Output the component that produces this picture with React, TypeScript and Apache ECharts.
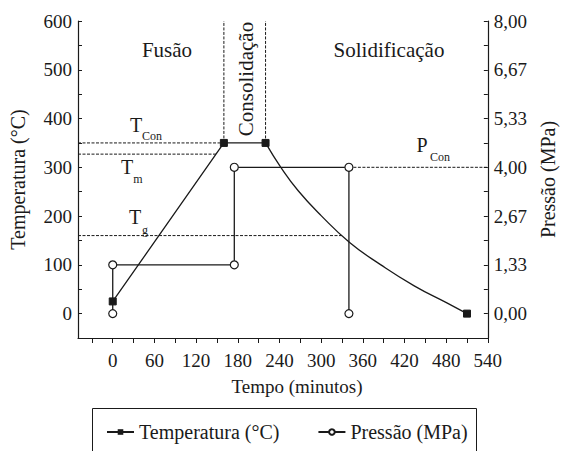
import React, { useEffect, useRef } from "react";
import * as echarts from "echarts";

// ---- data ----
const heatTimes = [0, 160, 220];
const heatTemps = [25, 350, 350];
const coolTimes = [220, 242, 267, 300, 341, 386, 434, 481, 510];
const coolTemps = [350, 300, 252, 201, 146, 100, 57, 22, 0];
const presTimes = [0, 0, 175, 175, 340, 340];
const presValues = [0, 1.333, 1.333, 4, 4, 0];

const xTickValues = [-30, 0, 30, 60, 90, 120, 150, 180, 210, 240, 270, 300, 330, 360, 390, 420, 450, 480, 510, 540];
const xLabelValues = [0, 60, 120, 180, 240, 300, 360, 420, 480, 540];

const T_CON = 350;
const T_M = 327;
const T_G = 160;
const P_CON = 4;
const stageStart = 160;
const stageEnd = 220;
const tmEnd = 149;
const tgEnd = 330;
const pconStart = 340;

const X_MIN = -50;
const X_MAX = 540;
const T_MIN = -50;
const T_MAX = 600;
const P_MIN = -2 / 3;
const P_MAX = 8;

const FONT = "'Liberation Serif', 'Times New Roman', Times, serif";
const INK = "#1a1a1a";

export default function App() {
  const ref = useRef<HTMLDivElement>(null);

  useEffect(() => {
    if (!ref.current) return;
    const chart = echarts.init(ref.current, undefined, { renderer: "svg" });

    const dashed = (data: number[][], yAxisIndex = 0) => ({
      type: "line",
      yAxisIndex,
      data,
      symbol: "none",
      silent: true,
      lineStyle: { color: INK, width: 1, type: [3, 1.5] },
      z: 1,
    });

    const text = (t: string, x: number, y: number, size: number, extra: any = {}) => ({
      type: "text",
      x,
      y,
      ...extra,
      style: {
        text: t,
        fontFamily: FONT,
        fontSize: size,
        fill: INK,
        align: "center",
        verticalAlign: "middle",
      },
    });

    chart.setOption({
      animation: false,
      backgroundColor: "#fff",
      textStyle: { fontFamily: FONT, color: INK },
      grid: { left: 78, right: 74, top: 21, bottom: 113 },
      legend: {
        data: ["Temperatura (°C)", "Pressão (MPa)"],
        left: 106,
        top: 422,
        padding: 0,
        itemWidth: 27,
        itemHeight: 7,
        itemGap: 38,
        textStyle: { fontFamily: FONT, fontSize: 20, color: INK },
      },
      xAxis: {
        type: "value",
        min: X_MIN,
        max: X_MAX,
        splitLine: { show: false },
        axisLine: { onZero: false, lineStyle: { color: INK, width: 1.2 } },
        axisTick: { show: true, inside: false, length: 5, customValues: xTickValues, lineStyle: { color: INK } },
        axisLabel: {
          customValues: xLabelValues,
          margin: 13,
          fontSize: 19,
          fontFamily: FONT,
          color: INK,
        },
      },
      yAxis: [
        {
          type: "value",
          min: T_MIN,
          max: T_MAX,
          interval: 50,
          name: "Temperatura (°C)",
          nameLocation: "middle",
          nameRotate: 90,
          nameGap: 50,
          nameTextStyle: { fontFamily: FONT, fontSize: 20, color: INK },
          splitLine: { show: false },
          axisLine: { show: true, onZero: false, lineStyle: { color: INK, width: 1.2 } },
          axisTick: { show: true, inside: true, length: 4, lineStyle: { color: INK } },
          axisLabel: {
            margin: 6,
            fontSize: 19,
            fontFamily: FONT,
            color: INK,
            formatter: (v: number) => (v >= 0 && Math.round(v) % 100 === 0 ? String(Math.round(v)) : ""),
          },
        },
        {
          type: "value",
          position: "right",
          min: P_MIN,
          max: P_MAX,
          interval: 2 / 3,
          name: "Pressão (MPa)",
          nameLocation: "middle",
          nameRotate: 90,
          nameGap: 48,
          nameTextStyle: { fontFamily: FONT, fontSize: 20, color: INK },
          splitLine: { show: false },
          axisLine: { show: true, onZero: false, lineStyle: { color: INK, width: 1.2 } },
          axisTick: { show: true, inside: true, length: 4, lineStyle: { color: INK } },
          axisLabel: {
            margin: 6,
            fontSize: 19,
            fontFamily: FONT,
            color: INK,
            formatter: (v: number) => {
              const k = v * 0.75;
              if (v < -1e-6 || Math.abs(k - Math.round(k)) > 1e-3) return "";
              return v.toFixed(2).replace(".", ",");
            },
          },
        },
      ],
      series: [
        dashed([[X_MIN, T_CON], [stageStart, T_CON]]),
        dashed([[X_MIN, T_M], [tmEnd, T_M]]),
        dashed([[X_MIN, T_G], [tgEnd, T_G]]),
        dashed([[stageStart, T_CON], [stageStart, T_MAX]]),
        dashed([[stageEnd, T_CON], [stageEnd, T_MAX]]),
        dashed([[pconStart, P_CON], [X_MAX, P_CON]], 1),
        {
          name: "Pressão (MPa)",
          type: "line",
          yAxisIndex: 1,
          data: presTimes.map((t, i) => [t, presValues[i]]),
          symbol: "circle",
          symbolSize: 8,
          showAllSymbol: true,
          lineStyle: { color: INK, width: 1.3 },
          itemStyle: { color: "#fff", borderColor: INK, borderWidth: 1.2 },
          z: 3,
        },
        {
          name: "Temperatura (°C)",
          type: "line",
          data: heatTimes.map((t, i) => [t, heatTemps[i]]),
          symbol: "rect",
          symbolSize: 7,
          showAllSymbol: true,
          lineStyle: { color: INK, width: 1.3 },
          itemStyle: { color: INK, borderColor: INK },
          z: 4,
        },
        {
          name: "Temperatura (°C)",
          type: "line",
          data: coolTimes.map((t, i) => ({
            value: [t, coolTemps[i]],
            symbol: i === coolTimes.length - 1 ? "rect" : "none",
          })),
          symbol: "rect",
          symbolSize: 7,
          showAllSymbol: true,
          smooth: 0.5,
          lineStyle: { color: INK, width: 1.3 },
          itemStyle: { color: INK, borderColor: INK },
          z: 4,
        },
      ],
      graphic: [
        text("Fusão", 167, 50, 21),
        text("Solidificação", 389, 50, 21),
        text("Consolidação", 246, 79, 21, { rotation: Math.PI / 2 }),
        text("Tempo (minutos)", 297, 386, 19),
        // T_Con
        text("T", 136, 125, 20),
        text("Con", 152, 136, 12),
        // T_m
        text("T", 127, 167, 20),
        text("m", 138, 179, 12),
        // T_g
        text("T", 135, 217, 20),
        text("g", 145, 230, 12),
        // P_Con
        text("P", 422, 145, 20),
        text("Con", 440, 157, 12),
        {
          type: "rect",
          shape: { x: 92.5, y: 408.5, width: 384, height: 80 },
          style: { fill: "none", stroke: INK, lineWidth: 1 },
          silent: true,
        },
      ],
    });

    return () => chart.dispose();
  }, []);

  return (
    <div
      ref={ref}
      style={{ position: "fixed", left: 0, top: 0, width: 566, height: 451, background: "#fff" }}
    />
  );
}
